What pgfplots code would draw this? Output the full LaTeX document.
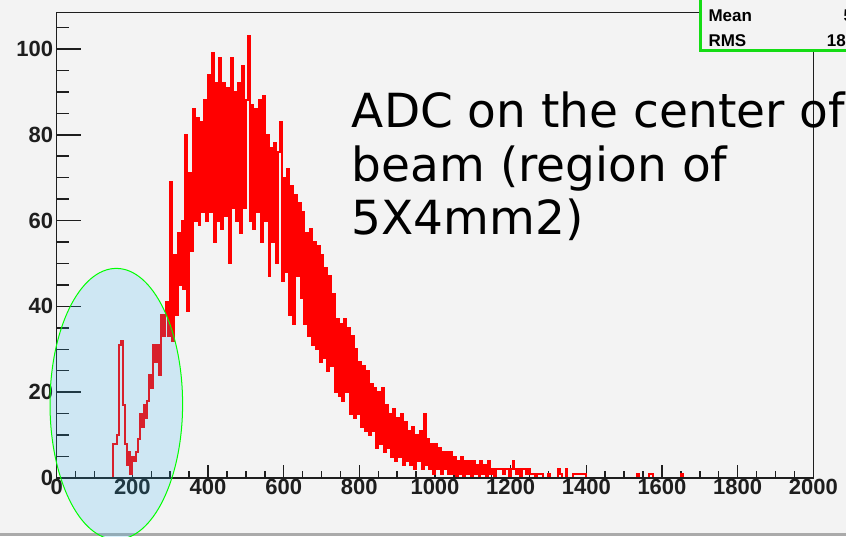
\documentclass[border=0pt]{standalone}
\usepackage{pgfplots}
\pgfplotsset{compat=1.18}
\usepackage{pgfplotstable}
\usepackage{fontspec}
\setmainfont{Liberation Sans}
\newfontfamily\dejavu{DejaVu Sans}
\definecolor{bgc}{RGB}{243,243,243}
\definecolor{axc}{RGB}{30,30,30}
\definecolor{ellfill}{RGB}{43,182,243}
\definecolor{ellline}{RGB}{0,255,0}
\definecolor{barc}{RGB}{170,170,170}
\definecolor{statc}{RGB}{20,220,20}
\definecolor{histc}{RGB}{255,0,0}
\pgfplotstableread[row sep=\\]{
x y\\
145 0\\ 150 8\\ 155 8\\ 160 10\\ 165 31\\ 170 32\\ 175 17\\ 180 8\\ 185 3\\ 190 6\\ 195 1\\
200 5\\ 205 4\\ 210 6\\ 215 9\\ 220 15\\ 225 12\\ 230 17\\ 235 14\\ 240 18\\ 245 24\\
250 21\\ 255 31\\ 260 27\\ 265 31\\ 270 24\\ 275 38\\ 280 33\\ 285 38\\ 290 41\\ 295 33\\
300 69\\ 305 32\\ 310 52\\ 315 38\\ 320 57\\ 325 45\\ 330 60\\ 335 44\\ 340 80\\ 345 39\\
350 71\\ 355 53\\ 360 86\\ 365 60\\ 370 84\\ 375 59\\ 380 83\\ 385 62\\ 390 88\\ 395 60\\
400 94\\ 405 62\\ 410 99\\ 415 55\\ 420 92\\ 425 60\\ 430 98\\ 435 58\\ 440 92\\ 445 61\\
450 91\\ 455 50\\ 460 98\\ 465 63\\ 470 90\\ 475 60\\ 480 92\\ 485 57\\ 490 96\\ 495 63\\
500 88\\ 505 103\\ 510 60\\ 515 87\\ 520 58\\ 525 86\\ 530 62\\ 535 88\\ 540 55\\ 545 89\\
550 60\\ 555 80\\ 560 47\\ 565 77\\ 570 55\\ 575 78\\ 580 50\\ 585 76\\ 590 83\\ 595 46\\
600 70\\ 605 48\\ 610 72\\ 615 38\\ 620 68\\ 625 36\\ 630 66\\ 635 47\\ 640 64\\ 645 42\\
650 62\\ 655 36\\ 660 57\\ 665 33\\ 670 58\\ 675 31\\ 680 55\\ 685 30\\ 690 54\\ 695 27\\
700 52\\ 705 28\\ 710 49\\ 715 25\\ 720 47\\ 725 26\\ 730 43\\ 735 20\\ 740 37\\ 745 19\\
750 36\\ 755 18\\ 760 37\\ 765 20\\ 770 35\\ 775 15\\ 780 33\\ 785 14\\ 790 30\\ 795 15\\
800 27\\ 805 12\\ 810 26\\ 815 11\\ 820 25\\ 825 10\\ 830 22\\ 835 11\\ 840 21\\ 845 7\\
850 20\\ 855 8\\ 860 21\\ 865 6\\ 870 17\\ 875 7\\ 880 15\\ 885 5\\ 890 16\\ 895 4\\
900 14\\ 905 5\\ 910 15\\ 915 3\\ 920 13\\ 925 4\\ 930 11\\ 935 3\\ 940 12\\ 945 2\\
950 10\\ 955 4\\ 960 11\\ 965 2\\ 970 15\\ 975 3\\ 980 9\\ 985 2\\ 990 8\\ 995 1\\
1000 8\\ 1005 2\\ 1010 7\\ 1015 1\\ 1020 6\\ 1025 2\\ 1030 6\\ 1035 1\\ 1040 6\\ 1045 1\\
1050 5\\ 1055 0\\ 1060 4\\ 1065 1\\ 1070 5\\ 1075 0\\ 1080 4\\ 1085 1\\ 1090 4\\ 1095 0\\
1100 4\\ 1105 1\\ 1110 3\\ 1115 0\\ 1120 4\\ 1125 1\\ 1130 3\\ 1135 0\\ 1140 4\\ 1145 1\\
1150 2\\ 1155 0\\ 1160 2\\ 1165 2\\ 1170 2\\ 1175 2\\ 1180 1\\ 1185 2\\ 1190 2\\ 1195 0\\
1200 2\\ 1205 4\\ 1210 2\\ 1215 1\\ 1220 2\\ 1225 0\\ 1230 2\\ 1235 2\\ 1240 1\\ 1245 2\\
1250 1\\ 1255 1\\ 1260 1\\ 1265 0\\ 1270 1\\ 1275 1\\ 1280 1\\ 1285 0\\
1300 1\\ 1305 0\\ 1325 2\\ 1330 1\\ 1335 0\\ 1345 2\\ 1350 0\\
1365 1\\ 1370 1\\ 1375 1\\ 1380 1\\ 1385 1\\ 1390 1\\ 1395 1\\ 1400 0\\
1535 1\\ 1540 0\\ 1565 1\\ 1575 0\\ 1650 1\\ 1655 0\\ 1660 0\\
}\histdata

\begin{document}
\begin{tikzpicture}
\useasboundingbox (0pt,0pt) rectangle (846pt,536pt);
\fill[bgc] (0pt,0pt) rectangle (846pt,536pt);
\fill[barc] (0pt,0pt) rectangle (846pt,3.3pt);
\begin{axis}[
  at={(56.7pt,58pt)}, anchor=south west,
  scale only axis, width=756.6pt, height=465.5pt,
  xmin=0, xmax=2000, ymin=0, ymax=108.5,
  axis line style={axc, line width=1.5pt},
  tick style={axc, line width=1.5pt},
  tick align=inside, tick pos=left,
  xtick={0,200,...,2000}, ytick={0,20,...,100},
  minor xtick={0,50,...,2000}, minor ytick={0,5,...,105},
  xtick style={/pgfplots/major tick length=13pt, /pgfplots/minor tick length=7.5pt},
  ytick style={/pgfplots/major tick length=24pt, /pgfplots/minor tick length=12.5pt},
  scaled ticks=false,
  /pgf/number format/1000 sep={},
  /pgf/number format/assume math mode=true,
  tick label style={font=\fontsize{22}{24}\selectfont\bfseries, text=axc},
  xticklabel style={yshift=2pt},
]
\addplot[draw=histc, line width=2pt, const plot mark left, mark=none] table[x=x,y=y]{\histdata};
\draw[axc, line width=1.5pt] (axis cs:0,0) -- (axis cs:2000,0);
\end{axis}
% stats box (partly outside the picture)
\fill[bgc] (700.7pt,485.3pt) rectangle (870pt,560pt);
\draw[statc, line width=2.5pt] (870pt,485.3pt) -- (700.7pt,485.3pt) -- (700.7pt,560pt);
\node[anchor=base west, inner sep=0pt, font=\fontsize{17}{19}\selectfont\bfseries] at (708.3pt,514.3pt) {Mean};
\node[anchor=base west, inner sep=0pt, font=\fontsize{17}{19}\selectfont\bfseries] at (708.3pt,489.3pt) {RMS};
\node[anchor=base west, inner sep=0pt, font=\fontsize{17}{19}\selectfont\bfseries] at (843.3pt,514.3pt) {5};
\node[anchor=base west, inner sep=0pt, font=\fontsize{17}{19}\selectfont\bfseries] at (826.7pt,489.3pt) {18};
% annotation text
\node[anchor=base west, inner sep=0pt, font=\dejavu\fontsize{47}{54}\selectfont] at (351.7pt,408pt) {ADC on the center of};
\node[anchor=base west, inner sep=0pt, font=\dejavu\fontsize{47}{54}\selectfont] at (351.7pt,354.3pt) {beam (region of};
\node[anchor=base west, inner sep=0pt, font=\dejavu\fontsize{47}{54}\selectfont] at (351.7pt,301pt) {5X4mm2)};
% ellipse highlight
\fill[ellfill, fill opacity=0.18] (116.3pt,132pt) ellipse [x radius=66.3pt, y radius=135.6pt];
\draw[ellline, line width=1pt] (116.3pt,132pt) ellipse [x radius=66.3pt, y radius=135.6pt];
\end{tikzpicture}
\end{document}
